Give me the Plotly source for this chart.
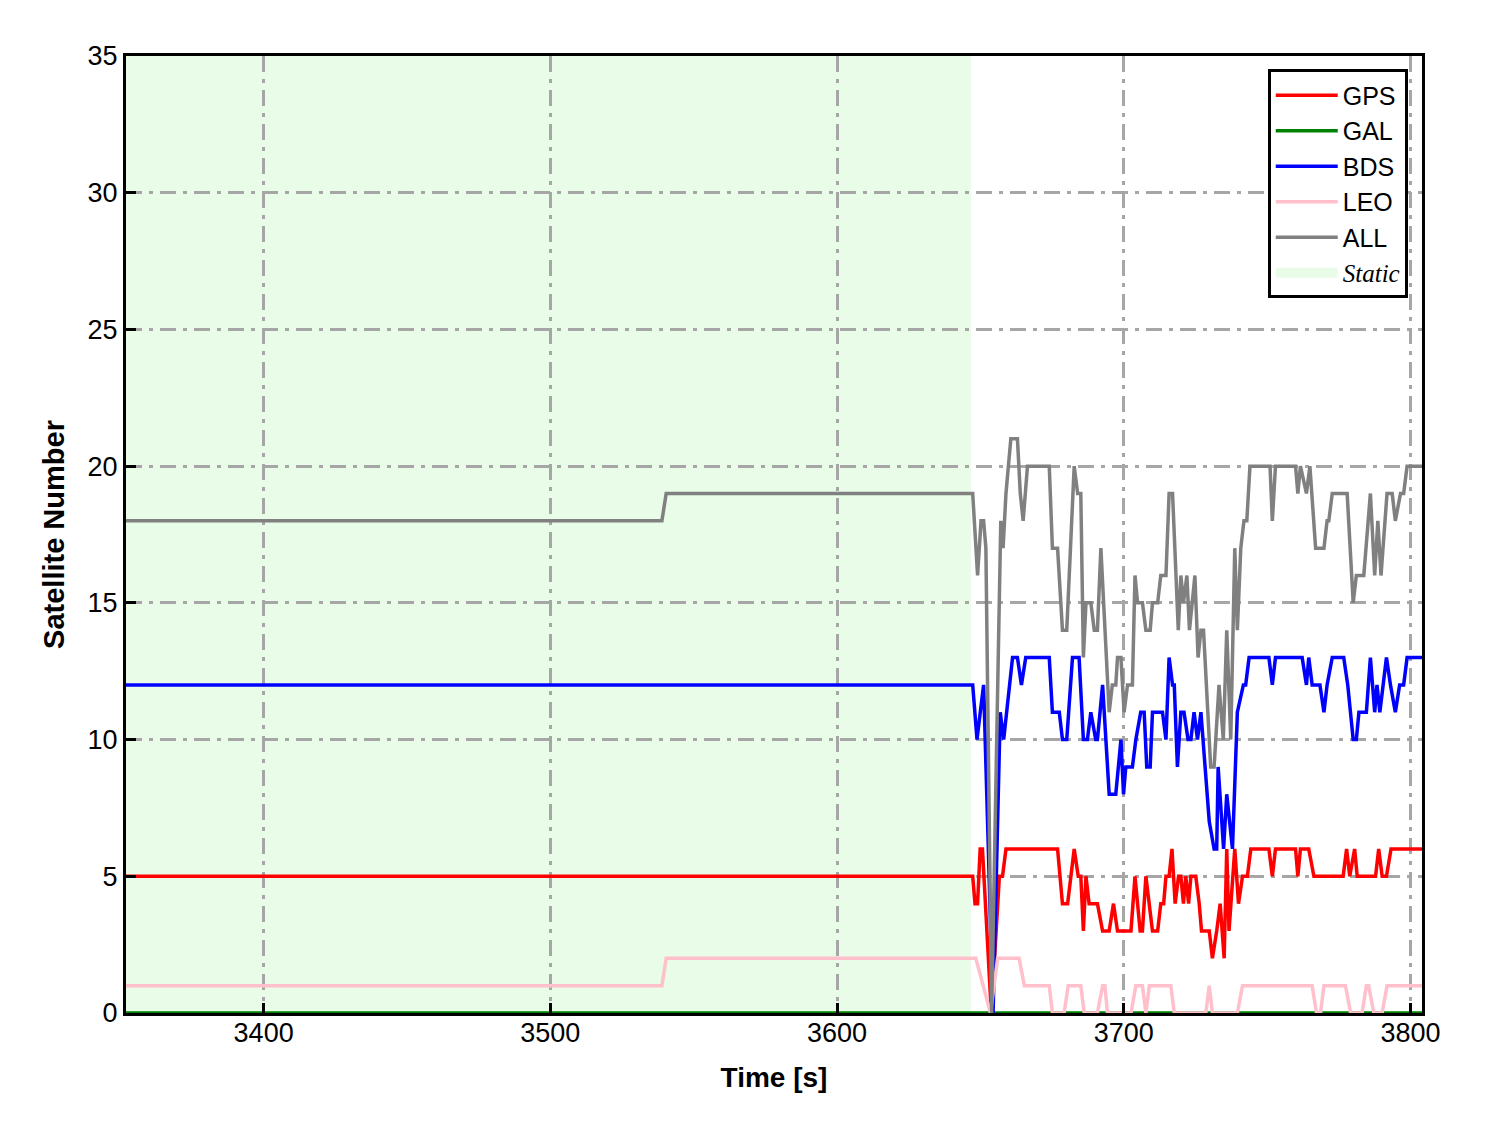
import plotly.graph_objects as go

# ---------------- data ----------------
STATIC_T = [3352, 3646.7]

GPS_T = [3352, 3647.3, 3648.1, 3649.0, 3649.9, 3650.7, 3653.8, 3656.6, 3657.7, 3658.9, 3676.9,
         3678.6, 3680.4, 3682.7, 3684.1, 3685.0, 3685.9, 3686.8, 3687.9, 3690.8, 3692.6, 3694.9,
         3696.4, 3697.8, 3702.5, 3703.9, 3705.7, 3706.5, 3707.7, 3710.0, 3711.8, 3712.9, 3713.9,
         3714.7, 3715.8, 3716.8, 3717.9, 3719.1, 3719.9, 3720.8, 3721.6, 3722.6, 3723.4, 3725.1,
         3726.3, 3727.1, 3729.8, 3730.9, 3732.4, 3733.6, 3735.0, 3735.9, 3736.7, 3738.7, 3740.0,
         3741.4, 3743.1, 3744.3, 3750.6, 3751.8, 3752.9, 3759.9, 3760.7, 3761.6, 3764.5, 3766.3,
         3776.5, 3777.7, 3778.8, 3780.5, 3781.4, 3787.8, 3788.9, 3790.1, 3791.6, 3793.2, 3804]
GPS_V = [5, 5, 4, 4, 6, 6, 0, 5, 5, 6, 6,
         4, 4, 6, 5, 5, 3, 5, 4, 4, 3, 3,
         4, 3, 3, 5, 3, 3, 5, 3, 3, 4, 4,
         5, 5, 6, 4, 5, 5, 4, 5, 4, 5, 5,
         4, 3, 3, 2, 3, 4, 2, 6, 3, 6, 4,
         5, 5, 6, 6, 5, 6, 6, 5, 6, 6, 5,
         5, 6, 5, 6, 5, 5, 6, 5, 5, 6, 6]

GAL_T = [3352, 3804]
GAL_V = [0, 0]

BDS_T = [3352, 3647.3, 3648.8, 3651.1, 3654.4, 3656.9, 3658.1, 3661.2, 3662.9, 3664.3, 3665.8,
         3674.0, 3675.1, 3677.5, 3678.6, 3680.1, 3682.1, 3684.4, 3685.9, 3687.3, 3688.5, 3690.2,
         3690.8, 3692.6, 3694.9, 3697.2, 3699.0, 3699.9, 3700.7, 3703.0, 3704.2, 3705.9, 3707.1,
         3708.0, 3709.2, 3710.0, 3713.5, 3714.7, 3715.8, 3717.0, 3717.6, 3718.7, 3719.9, 3721.0,
         3722.4, 3723.4, 3724.5, 3725.7, 3726.9, 3729.8, 3731.5, 3732.4, 3732.9, 3734.8, 3735.9,
         3737.9, 3739.6, 3741.7, 3742.5, 3743.7, 3750.6, 3751.8, 3752.9, 3762.2, 3763.7, 3764.5,
         3765.7, 3768.4, 3769.8, 3770.9, 3772.7, 3776.7, 3778.1, 3780.0, 3781.1, 3782.0, 3784.6,
         3786.0, 3787.5, 3788.3, 3789.3, 3791.6, 3793.0, 3794.7, 3796.2, 3797.6, 3798.8, 3804]
BDS_V = [12, 12, 10, 12, 0, 11, 10, 13, 13, 12, 13,
         13, 11, 11, 10, 10, 13, 13, 10, 10, 11, 10,
         10, 12, 8, 8, 10, 8, 9, 9, 10, 11, 11,
         9, 9, 11, 11, 10, 13, 12, 12, 9, 11, 11,
         10, 10, 11, 10, 11, 7, 6, 6, 9, 6, 8,
         6, 11, 12, 12, 13, 13, 12, 13, 13, 12, 13,
         12, 12, 11, 12, 13, 13, 12, 10, 10, 11, 11,
         13, 11, 12, 11, 13, 12, 11, 12, 12, 13, 13]

LEO_T = [3352, 3538.9, 3540.4, 3648.4, 3653.5, 3656.0, 3663.5, 3665.3, 3674.0, 3675.1, 3679.2,
         3680.6, 3685.0, 3686.2, 3690.8, 3692.6, 3693.4, 3694.3, 3702.5, 3704.2, 3706.5, 3707.7,
         3708.9, 3716.4, 3717.6, 3728.6, 3729.8, 3730.9, 3739.6, 3741.4, 3765.7, 3767.2, 3768.6,
         3769.8, 3777.3, 3779.1, 3783.1, 3784.6, 3785.4, 3787.2, 3790.1, 3791.8, 3804]
LEO_V = [1, 1, 2, 2, 0, 2, 2, 1, 1, 0, 0,
         1, 1, 0, 0, 1, 1, 0, 0, 1, 1, 0,
         1, 1, 0, 0, 1, 0, 0, 1, 1, 0, 0,
         1, 1, 0, 0, 1, 1, 0, 0, 1, 1]

ALL_T = [3352, 3538.9, 3540.4, 3647.3, 3649.0, 3650.2, 3651.1, 3651.9, 3653.9, 3657.1, 3657.9,
         3658.9, 3660.6, 3662.9, 3663.9, 3664.9, 3666.4, 3674.0, 3675.1, 3676.9, 3678.6, 3680.1,
         3682.7, 3683.9, 3685.0, 3685.9, 3686.8, 3688.5, 3689.7, 3690.8, 3692.0, 3694.9, 3696.0,
         3697.2, 3697.8, 3699.0, 3700.1, 3701.3, 3703.0, 3703.9, 3704.8, 3706.5, 3707.7, 3709.2,
         3710.0, 3711.8, 3712.9, 3714.7, 3715.8, 3717.0, 3719.0, 3719.9, 3720.8, 3722.0, 3722.9,
         3724.8, 3725.9, 3726.9, 3727.8, 3729.2, 3730.3, 3731.5, 3733.2, 3734.7, 3735.9, 3737.3,
         3738.7, 3739.6, 3740.8, 3741.9, 3742.9, 3744.0, 3751.0, 3751.8, 3752.9, 3759.9, 3760.7,
         3761.6, 3763.7, 3764.9, 3766.9, 3769.8, 3770.9, 3771.5, 3772.7, 3777.9, 3780.0, 3781.1,
         3783.7, 3786.0, 3787.5, 3788.6, 3789.7, 3791.8, 3793.6, 3794.7, 3796.5, 3797.6, 3798.8,
         3804]
ALL_V = [18, 18, 19, 19, 16, 18, 18, 17, 0, 18, 17,
         19, 21, 21, 19, 18, 20, 20, 17, 17, 14, 14,
         20, 19, 19, 13, 15, 15, 14, 14, 17, 11, 12,
         12, 13, 13, 11, 12, 12, 16, 15, 15, 14, 14,
         15, 15, 16, 16, 19, 19, 14, 16, 15, 16, 14,
         16, 13, 14, 14, 11, 9, 9, 12, 10, 14, 10,
         17, 14, 17, 18, 18, 20, 20, 18, 20, 20, 19,
         20, 19, 20, 17, 17, 18, 18, 19, 19, 15, 16,
         16, 19, 16, 18, 16, 19, 19, 18, 19, 19, 20,
         20]

X_RANGE = [3352, 3804]
Y_RANGE = [0, 35]
X_TICKS = [3400, 3500, 3600, 3700, 3800]
Y_TICKS = [0, 5, 10, 15, 20, 25, 30, 35]

STATIC_COLOR = "#e8fce8"
FONT = "Liberation Sans, Arial, sans-serif"

# ---------------- figure ----------------
fig = go.Figure()

series = [
    ("GPS", GPS_T, GPS_V, "#ff0000", 1),
    ("GAL", GAL_T, GAL_V, "#008000", 2),
    ("BDS", BDS_T, BDS_V, "#0000ff", 3),
    ("LEO", LEO_T, LEO_V, "#ffc0cb", 4),
    ("ALL", ALL_T, ALL_V, "#808080", 5),
]
for name, t, v, col, rank in series:
    fig.add_trace(go.Scatter(x=t, y=v, mode="lines", name=name,
                             line=dict(color=col, width=3.5), legendrank=rank))

# legend-only entry for the static band (thick line gives a patch-like legend icon)
fig.add_trace(go.Scatter(
    x=[None], y=[None], mode="lines",
    line=dict(width=20, color=STATIC_COLOR),
    name='<span style="font-family:\'Liberation Serif\'"><i>Static</i></span>',
    legendrank=6, hoverinfo="skip"))

# the static band itself, drawn below the grid
fig.add_shape(type="rect", xref="x", yref="paper",
              x0=STATIC_T[0], x1=STATIC_T[1], y0=0, y1=1,
              fillcolor=STATIC_COLOR, line=dict(width=0), layer="below")

axis_common = dict(
    showline=True, linecolor="black", linewidth=3, mirror=True,
    ticks="inside", ticklen=10, tickwidth=2.5, tickcolor="black",
    showgrid=True, gridcolor="#a6a6a6", gridwidth=2.6, griddash="16px,7px,4px,7px",
    zeroline=False,
    tickfont=dict(family=FONT, size=27, color="black"),
)

fig.update_layout(
    width=1480, height=1125,
    margin=dict(l=118, r=66, t=48, b=120),
    plot_bgcolor="white", paper_bgcolor="white",
    font=dict(family=FONT, color="black"),
    xaxis=dict(range=X_RANGE, tickvals=X_TICKS, ticklabelstandoff=-6,
               title=dict(text="<b>Time [s]</b>", font=dict(size=28), standoff=20),
               **axis_common),
    yaxis=dict(range=Y_RANGE, tickvals=Y_TICKS,
               title=dict(text="<b>Satellite Number</b>", font=dict(size=29), standoff=15),
               **axis_common),
    legend=dict(x=0.989, y=0.986, xanchor="right", yanchor="top",
                bgcolor="white", bordercolor="black", borderwidth=3,
                font=dict(size=25, family=FONT),
                tracegroupgap=0, itemwidth=62),
    showlegend=True,
)

fig.write_html("out.html")
